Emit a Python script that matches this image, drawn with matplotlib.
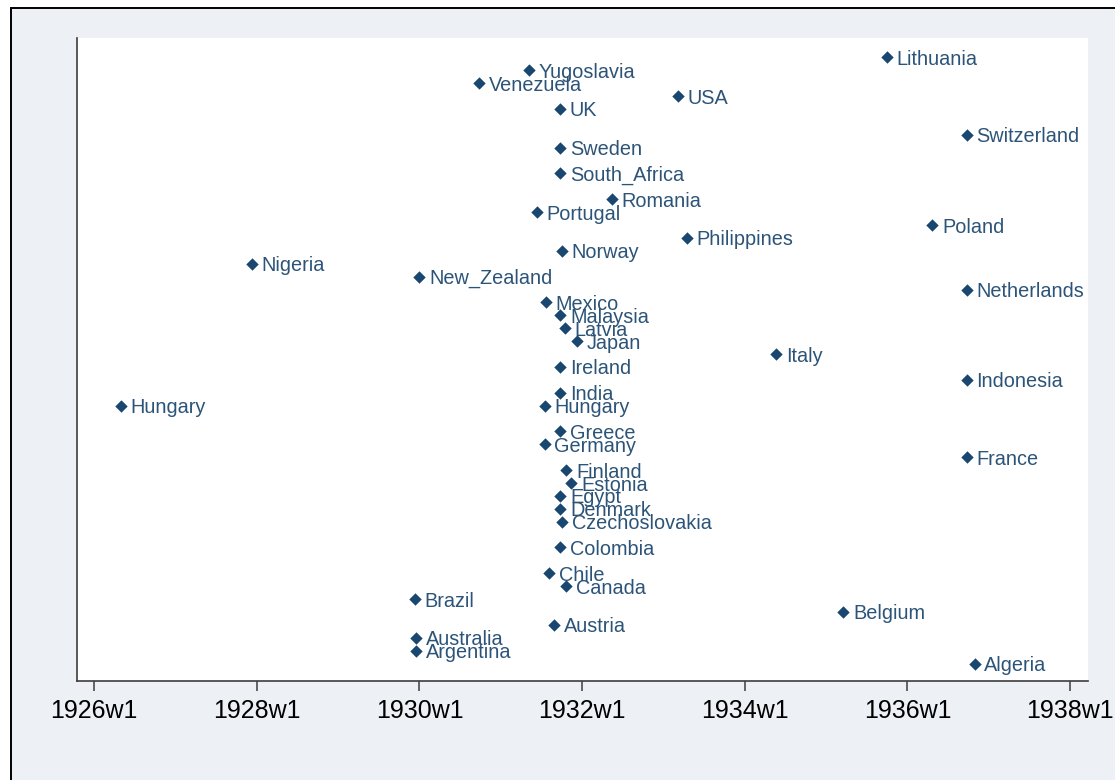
#week each country left gold, plotted against country id (stata style scatter)
import matplotlib.pyplot as plt
from matplotlib.patches import Rectangle

countries = ['Algeria', 'Argentina', 'Australia', 'Austria', 'Belgium', 'Brazil', 'Canada', 'Chile',
             'Colombia', 'Czechoslovakia', 'Denmark', 'Egypt', 'Estonia', 'Finland', 'France', 'Germany',
             'Greece', 'Hungary', 'Hungary', 'India', 'Indonesia', 'Ireland', 'Italy', 'Japan', 'Latvia',
             'Malaysia', 'Mexico', 'Netherlands', 'New_Zealand', 'Nigeria', 'Norway', 'Philippines',
             'Poland', 'Portugal', 'Romania', 'South_Africa', 'Sweden', 'Switzerland', 'UK', 'USA',
             'Venezuela', 'Yugoslavia', 'Lithuania']
country_id = [1, 2, 3, 4, 5, 6, 7, 8,
              10, 12, 13, 14, 15, 16, 17, 18,
              19, 21, 21, 22, 23, 24, 25, 26, 27,
              28, 29, 30, 31, 32, 33, 34,
              35, 36, 37, 39, 41, 42, 44, 45,
              46, 47, 48]
exit_week = ['1936w44', '1929w51', '1929w51', '1931w35', '1935w12', '1929w50', '1931w43', '1931w32',
             '1931w39', '1931w40', '1931w39', '1931w39', '1931w46', '1931w43', '1936w39', '1931w29',
             '1931w39', '1926w18', '1931w29', '1931w39', '1936w39', '1931w39', '1934w21', '1931w50', '1931w42',
             '1931w39', '1931w30', '1936w39', '1930w1', '1927w50', '1931w40', '1933w16',
             '1936w17', '1931w24', '1932w20', '1931w39', '1931w39', '1936w39', '1931w39', '1933w10',
             '1930w39', '1931w19', '1935w40']
tick_labels = ['1926w1', '1928w1', '1930w1', '1932w1', '1934w1', '1936w1', '1938w1']


def to_week(s):
    # stata %tw: weeks since 1960w1, 52 weeks a year
    yr, wk = s.split('w')
    return (int(yr) - 1960) * 52 + int(wk) - 1


x = [to_week(s) for s in exit_week]
ticks = [to_week(s) for s in tick_labels]

navy = '#1a476f'
bg = '#edf1f6'

fig = plt.figure(figsize=(11.15, 7.8), dpi=100, facecolor='white')
# graph region with the black frame (right/bottom edges fall outside the picture)
fig.add_artist(Rectangle((10.5 / 1115, -0.05), 1.1, 1 - 8.5 / 780 + 0.05, transform=fig.transFigure,
                         facecolor=bg, edgecolor='black', lw=1.4, zorder=0))

ax = fig.add_axes([77 / 1115, 99 / 780, 1011 / 1115, 643 / 780])
ax.set_facecolor('white')

ax.scatter(x, country_id, marker='D', s=40, color=navy, zorder=3, linewidths=0)
for xi, yi, name in zip(x, country_id, countries):
    ax.annotate(name, (xi, yi), xytext=(7, -5.4), textcoords='offset points',
                va='baseline', ha='left', color='#2c5478', fontsize=14.3, family='Liberation Sans')

ax.set_xlim(ticks[0] - 11, ticks[-1] + 11.5)
ax.set_ylim(-0.35, 49.5)
ax.set_xticks(ticks)
ax.set_xticklabels(tick_labels, fontsize=18, family='Liberation Sans', color='black')
ax.set_yticks([])

for side in ['top', 'right']:
    ax.spines[side].set_visible(False)
for side in ['left', 'bottom']:
    ax.spines[side].set_color('#3c3c3c')
    ax.spines[side].set_linewidth(1.2)
ax.tick_params(axis='x', length=7.2, width=1.1, color='#3c3c3c', pad=6)

fig.savefig('out.png', dpi=100)
